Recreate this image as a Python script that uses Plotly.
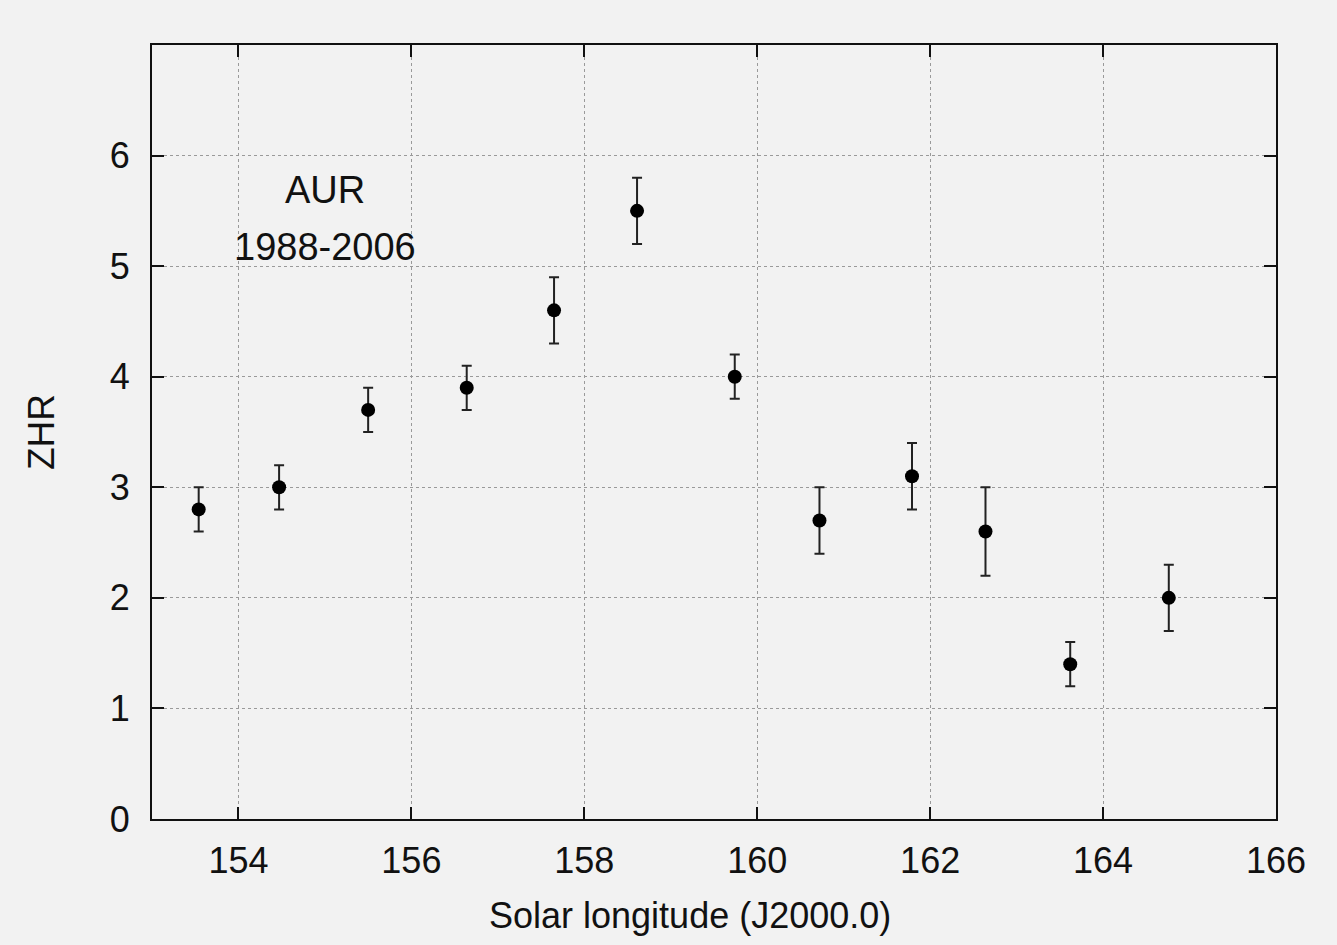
import plotly.graph_objects as go

# Data
solar_longitude = [153.54, 154.47, 155.50, 156.64, 157.65, 158.61,
                   159.74, 160.72, 161.79, 162.64, 163.62, 164.76]
zhr = [2.8, 3.0, 3.7, 3.9, 4.6, 5.5, 4.0, 2.7, 3.1, 2.6, 1.4, 2.0]
zhr_err = [0.2, 0.2, 0.2, 0.2, 0.3, 0.3, 0.2, 0.3, 0.3, 0.4, 0.2, 0.3]

x_ticks = [154, 156, 158, 160, 162, 164, 166]
y_ticks = [0, 1, 2, 3, 4, 5, 6]

FONT = "Liberation Sans, Arial, Helvetica, sans-serif"
BG = "#f2f2f2"
INK = "#111111"

fig = go.Figure()
fig.add_trace(go.Scatter(
    x=solar_longitude, y=zhr, mode="markers",
    marker=dict(symbol="circle", size=14, color="black"),
    error_y=dict(type="data", array=zhr_err, visible=True,
                 color="#222222", thickness=2, width=5),
    showlegend=False,
))

fig.add_annotation(x=155.0, y=5.69, xref="x", yref="y", text="AUR",
                   showarrow=False, font=dict(size=38, color=INK, family=FONT))
fig.add_annotation(x=155.0, y=5.17, xref="x", yref="y", text="1988-2006",
                   showarrow=False, font=dict(size=38, color=INK, family=FONT))

# x-axis title (slightly left of plot centre, as in the reference)
fig.add_annotation(x=0.4786, y=0, xref="paper", yref="paper", yshift=-96,
                   xanchor="center", yanchor="middle", showarrow=False,
                   text="Solar longitude (J2000.0)",
                   font=dict(size=36, color=INK, family=FONT))

axis_common = dict(
    showline=True, linecolor=INK, linewidth=2, mirror="ticks",
    ticks="inside", ticklen=12, tickwidth=2, tickcolor=INK,
    showgrid=True, gridcolor="#9a9a9a", griddash="dot", gridwidth=1,
    zeroline=False,
    tickfont=dict(size=36, color=INK, family=FONT),
)

fig.update_xaxes(
    range=[153, 166], tickmode="array", tickvals=x_ticks,
    ticktext=[str(v) for v in x_ticks], ticklabelstandoff=9,
    **axis_common,
)
fig.update_yaxes(
    range=[0, 7], tickmode="array", tickvals=y_ticks,
    ticktext=[str(v) for v in y_ticks], ticklabelstandoff=13,
    title=dict(text="ZHR", standoff=44,
               font=dict(size=37, color=INK, family=FONT)),
    **axis_common,
)

fig.update_layout(
    width=1337, height=945,
    margin=dict(l=152, r=61, t=45, b=126),
    paper_bgcolor=BG, plot_bgcolor=BG,
    font=dict(family=FONT, color=INK),
)

fig.write_html("out.html")
